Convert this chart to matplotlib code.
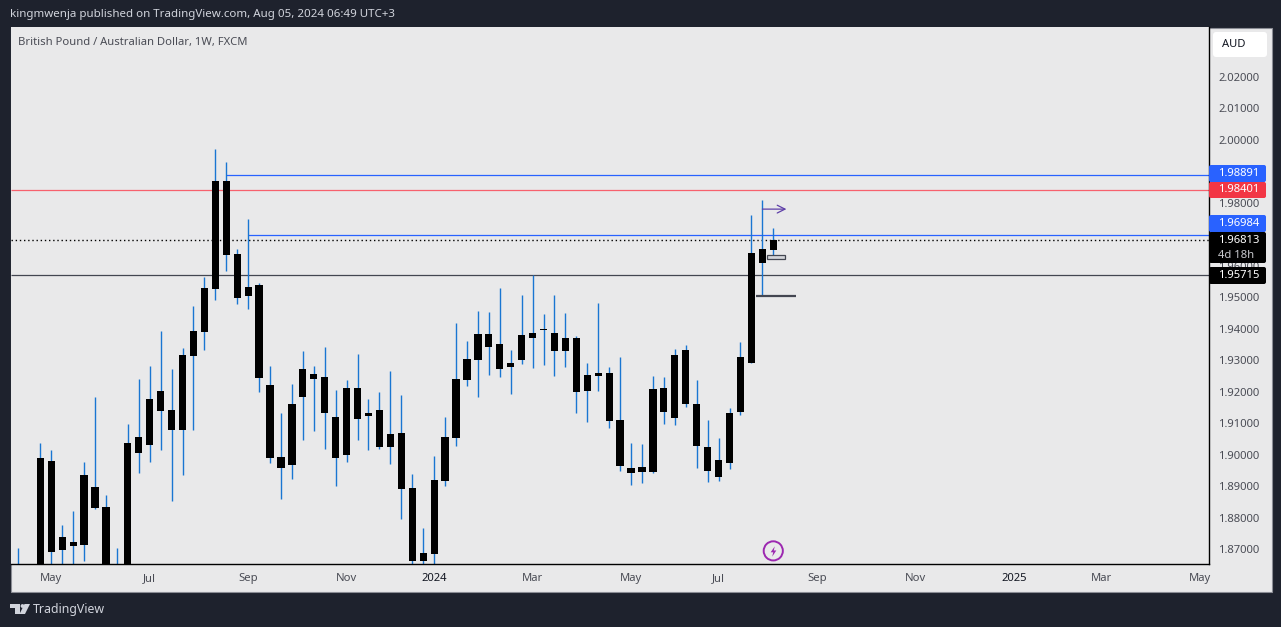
import matplotlib
matplotlib.use("Agg")
import matplotlib.pyplot as plt
from matplotlib.patches import Rectangle, FancyBboxPatch, Polygon, Circle
from matplotlib.transforms import Affine2D

plt.rcParams["font.family"] = ["Noto Sans", "DejaVu Sans"]

# weekly candles (the first few sit below the visible range)
body_top = [1.8617, 1.8617, 1.8989, 1.8980, 1.8738, 1.8722, 1.8935, 1.8897, 1.8833, 1.8617,
            1.9037, 1.9056, 1.9177, 1.9202, 1.9142, 1.9316, 1.9393, 1.9529, 1.9869, 1.9869,
            1.9637, 1.9533, 1.9539, 1.9221, 1.8992, 1.9161, 1.9272, 1.9256, 1.9247, 1.9119,
            1.9212, 1.9212, 1.9132, 1.9142, 1.9065, 1.9069, 1.8894, 1.8687, 1.8919, 1.9056,
            1.9240, 1.9304, 1.9383, 1.9383, 1.9351, 1.9291, 1.9380, 1.9386, 1.9399, 1.9386,
            1.9371, 1.9371, 1.9253, 1.9259, 1.9259, 1.9110, 1.8957, 1.8961, 1.9208, 1.9212,
            1.9316, 1.9332, 1.9161, 1.9024, 1.8983, 1.9132, 1.9310, 1.9641, 1.9653, 1.9682]
body_bottom = [1.8570, 1.8570, 1.8570, 1.8690, 1.8697, 1.8710, 1.8713, 1.8830, 1.8570, 1.8570,
               1.8570, 1.9005, 1.9030, 1.9139, 1.9078, 1.9078, 1.9313, 1.9390, 1.9526, 1.9634,
               1.9498, 1.9504, 1.9243, 1.8989, 1.8957, 1.8967, 1.9183, 1.9240, 1.9132, 1.8989,
               1.8999, 1.9113, 1.9123, 1.9024, 1.9024, 1.8891, 1.8662, 1.8662, 1.8684, 1.8916,
               1.9053, 1.9237, 1.9301, 1.9342, 1.9272, 1.9278, 1.9301, 1.9371, 1.9396, 1.9329,
               1.9329, 1.9199, 1.9202, 1.9250, 1.9107, 1.8964, 1.8942, 1.8945, 1.8945, 1.9135,
               1.9116, 1.9161, 1.9027, 1.8948, 1.8929, 1.8973, 1.9135, 1.9291, 1.9609, 1.9650]
highs = [1.8703, 1.8633, 1.9037, 1.9015, 1.8776, 1.8821, 1.8976, 1.9183, 1.8872, 1.8703,
         1.9097, 1.9240, 1.9282, 1.9393, 1.9272, 1.9339, 1.9472, 1.9564, 1.9971, 1.9930,
         1.9653, 1.9749, 1.9545, 1.9282, 1.9132, 1.9224, 1.9329, 1.9282, 1.9342, 1.9205,
         1.9237, 1.9320, 1.9177, 1.9199, 1.9266, 1.9189, 1.8938, 1.8767, 1.8996, 1.9119,
         1.9418, 1.9361, 1.9456, 1.9453, 1.9529, 1.9332, 1.9507, 1.9571, 1.9447, 1.9507,
         1.9450, 1.9377, 1.9291, 1.9482, 1.9278, 1.9310, 1.9037, 1.9034, 1.9250, 1.9247,
         1.9336, 1.9348, 1.9237, 1.9110, 1.9053, 1.9148, 1.9358, 1.9761, 1.9809, 1.9720]
lows = [1.8554, 1.8554, 1.8554, 1.8617, 1.8633, 1.8617, 1.8662, 1.8827, 1.8570, 1.8554,
        1.8554, 1.8942, 1.8976, 1.9015, 1.8853, 1.8935, 1.9078, 1.9332, 1.9491, 1.9583,
        1.9479, 1.9463, 1.9199, 1.8973, 1.8859, 1.8922, 1.9046, 1.9075, 1.9018, 1.8900,
        1.8976, 1.9046, 1.9015, 1.9018, 1.8970, 1.8795, 1.8601, 1.8617, 1.8633, 1.8900,
        1.9027, 1.9218, 1.9183, 1.9253, 1.9247, 1.9193, 1.9288, 1.9275, 1.9285, 1.9250,
        1.9278, 1.9132, 1.9104, 1.9202, 1.9084, 1.8948, 1.8903, 1.8910, 1.8942, 1.9097,
        1.9094, 1.9151, 1.8957, 1.8913, 1.8916, 1.8954, 1.9126, 1.9291, 1.9504, 1.9631]
weeks = list(range(len(body_top)))

month_weeks = [3, 12, 21, 30, 38, 47, 56, 64, 73, 82, 91, 99, 108]
month_labels = ["May", "Jul", "Sep", "Nov", "2024", "Mar", "May", "Jul", "Sep", "Nov", "2025", "Mar", "May"]
# 1.97 and 1.99 are fully covered by the coloured labels in the original
price_ticks = [1.87, 1.88, 1.89, 1.90, 1.91, 1.92, 1.93, 1.94, 1.95, 1.96, 1.98, 2.00, 2.01, 2.02]

level_blue_high = 1.98891
level_red = 1.98401
level_blue_low = 1.96984
last_close = 1.96813
level_black = 1.95715

DARK = "#1e222d"
PANEL = "#e9e9ea"
TEXT = "#4a4c55"
FS = 8.1

fig = plt.figure(figsize=(12.81, 6.27), dpi=100, facecolor=DARK)
pix = Affine2D().scale(1, -1).translate(0, 627)  # top-left pixel coordinates for the page furniture

fig.add_artist(Rectangle((10.5, 27.5), 1261, 564, transform=pix, facecolor=PANEL,
                         edgecolor="#8b8d95", lw=0.8, zorder=-1))

ax = fig.add_axes([11 / 1281, 63 / 627, 1198 / 1281, 537 / 627], facecolor=PANEL)
ax.set_xlim(-0.678, 108.83)
ax.set_ylim(1.86523, 2.03587)

ax.hlines(level_red, -0.678, 108.83, color="#f7616d", lw=0.9, zorder=1)
ax.hlines(level_black, -0.678, 108.83, color="#434651", lw=0.9, zorder=1)
ax.hlines(last_close, -0.678, 108.83, color="black", lw=1, linestyles=(0, (1, 2)), zorder=1)
ax.hlines(level_blue_high, 19, 108.83, color="#2962ff", lw=0.9, zorder=1)
ax.hlines(level_blue_low, 21, 108.83, color="#2962ff", lw=0.9, zorder=1)

ax.vlines(weeks, lows, highs, color="#1976d2", lw=1.0, zorder=2)
heights = [t - b for t, b in zip(body_top, body_bottom)]
ax.bar(weeks, heights, bottom=body_bottom, width=0.66, color="black", linewidth=0, zorder=3)

# drawings near the last candles
ax.hlines(1.9504, 67.4, 71.1, color="#434651", lw=1.6, zorder=4)
ax.add_patch(Rectangle((68.4, 1.9623), 1.7, 0.0011, facecolor="#d4d5da", edgecolor="#434651", lw=0.9, zorder=4))
ax.annotate("", xy=(70.2, 1.9780), xytext=(68, 1.9780),
            arrowprops=dict(arrowstyle="->", color="#5e3fa8", lw=0.9, shrinkA=0, shrinkB=0, mutation_scale=14), zorder=5)
bolt = [(0.25, 1), (-0.55, -0.15), (-0.05, -0.15), (-0.25, -1), (0.55, 0.2), (0.05, 0.2)]
ax.scatter([69], [1.8694], s=190, facecolor="none", edgecolor="#9c27b0", lw=1.4, zorder=5)
ax.scatter([69], [1.8694], s=55, marker=bolt, color="#9c27b0", linewidth=0, zorder=6)

for side in ["left", "top"]:
    ax.spines[side].set_visible(False)
for side in ["bottom", "right"]:
    ax.spines[side].set_linewidth(1)
    ax.spines[side].set_color("black")

ax.yaxis.tick_right()
ax.set_yticks(price_ticks, [f"{p:.5f}" for p in price_ticks])
ax.tick_params(axis="y", length=0, pad=6.5, labelsize=FS, labelcolor=TEXT)
ax.set_xticks(month_weeks, month_labels)
ax.tick_params(axis="x", length=0, pad=6.2, labelsize=FS, labelcolor=TEXT)
for lab in ax.get_xticklabels():
    if lab.get_text() in ("2024", "2025"):
        lab.set_fontweight("bold")
        lab.set_color("#131722")

# price scale labels
def price_label(text, top, bottom, color, text_y=None):
    fig.add_artist(FancyBboxPatch((1209, top), 57, bottom - top, boxstyle="round,pad=0,rounding_size=2",
                                  transform=pix, facecolor=color, edgecolor="none", zorder=2))
    fig.text(1218, text_y or (top + bottom) / 2, text, transform=pix, color="white", fontsize=FS, fontweight="bold",
             ha="left", va="center", zorder=3)

price_label("1.98891", 165, 182, "#2962ff")
price_label("1.98401", 182, 198, "#f23645")
price_label("1.96984", 215, 232, "#2962ff")
price_label("1.96813", 232, 263, "black", text_y=240.5)
price_label("1.95715", 267, 284, "black")
fig.text(1218, 255, "4d 18h", transform=pix, color="#c8c9ce", fontsize=FS, ha="left", va="center", zorder=3)

fig.add_artist(FancyBboxPatch((1213, 32), 54, 25, boxstyle="round,pad=0,rounding_size=3", transform=pix,
                              facecolor="white", edgecolor="none", zorder=2))
fig.text(1222, 44.5, "AUD", transform=pix, color="#131722", fontsize=FS, ha="left", va="center", zorder=3)

fig.text(18, 42, "British Pound / Australian Dollar, 1W, FXCM", transform=pix, color=TEXT,
         fontsize=FS, ha="left", va="center", zorder=3)
fig.text(10, 14, "kingmwenja published on TradingView.com, Aug 05, 2024 06:49 UTC+3", transform=pix,
         color="#d1d4dc", fontsize=8.3, fontweight="medium", ha="left", va="center")

# logo
logo = "#d1d4dc"
fig.add_artist(Polygon([(10, 604), (20, 604), (20, 614), (15, 614), (15, 608), (10, 608)], transform=pix, facecolor=logo, edgecolor="none"))
fig.add_artist(Circle((22.5, 606), 1.9, transform=pix, facecolor=logo, edgecolor="none"))
fig.add_artist(Polygon([(24.5, 604), (30, 604), (25, 614), (19.5, 614)], transform=pix, facecolor=logo, edgecolor="none"))
fig.text(33, 609.5, "TradingView", transform=pix, color="#d1d4dc", fontsize=8.9, fontweight="semibold", ha="left", va="center")

plt.savefig("out.png", dpi=100)
